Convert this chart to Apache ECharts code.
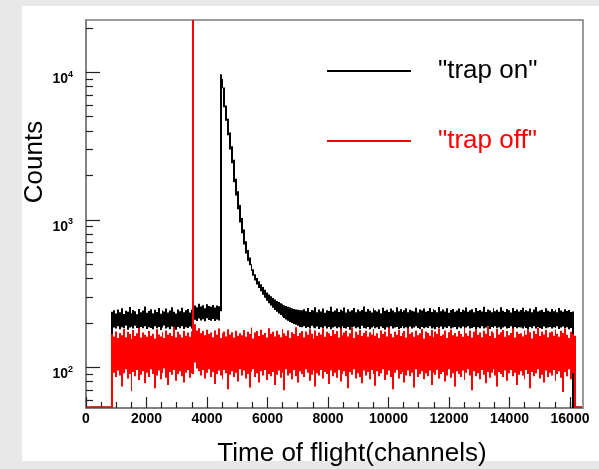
<!DOCTYPE html>
<html>
<head>
<meta charset="utf-8">
<script src="https://cdn.jsdelivr.net/npm/echarts@6/dist/echarts.min.js"></script>
<style>
html,body{margin:0;padding:0;background:#e8e8e8;width:599px;height:469px;overflow:hidden;}
#panel{position:absolute;left:22px;top:6px;width:577px;height:455px;background:#ffffff;}
#chart{position:absolute;left:0;top:0;width:599px;height:469px;}
</style>
</head>
<body>
<div id="panel"></div>
<div id="chart"></div>
<script>
// ---- data: histograms shown as per-bin [low, high] envelopes (64-channel bins) ----
// 0 = empty bin (drawn on the axis floor, like ROOT does)
const BIN_WIDTH = 64;
const seriesNames = ['"trap on"', '"trap off"'];

const trapOnLow = [
  0,0,0,0,0,0,0,0,0,0,0,0,0,0,186,183,
  190,181,187,184,192,180,186,189,183,191,185,179,188,184,190,182,
  187,185,181,190,184,188,179,186,192,183,187,181,189,185,180,188,
  184,190,182,187,185,189,183,200,210,206,214,208,212,205,215,209,
  207,213,206,211,208,240,7800,5800,4700,3750,3000,2420,1800,1460,1180,960,
  810,680,590,525,492,450,417,388,365,345,328,310,296,283,272,262,
  253,245,238,232,226,221,216,211,207,203,200,197,194,191,188,187,
  190,185,188,183,191,186,184,189,182,187,185,190,183,188,181,186,
  189,184,187,182,190,185,183,188,180,186,189,184,187,182,191,185,
  183,188,181,186,190,184,187,182,189,185,180,187,184,190,183,186,
  188,182,185,190,184,187,181,189,183,186,190,185,182,188,184,187,
  185,190,183,186,181,188,184,189,182,187,185,190,183,186,188,181,
  187,184,189,182,186,190,183,185,188,181,187,184,190,183,186,189,
  182,188,185,190,184,187,181,186,189,183,185,190,182,188,184,187,
  186,183,189,185,181,188,184,190,183,187,185,182,189,184,186,188,
  183,187,185,190,182,186,189,184,187,181,185,0,0,0,0,0
];
const trapOnHigh = [
  0,0,0,0,0,0,0,0,0,0,0,0,0,238,244,232,
  247,236,251,230,242,238,256,233,245,240,229,249,236,243,258,234,
  241,248,233,246,237,252,231,244,239,250,235,243,255,238,232,247,
  240,253,236,244,249,235,246,292,262,255,270,258,264,251,268,260,
  257,265,254,262,259,9700,9000,7900,5950,4850,3900,3150,2550,1900,1560,1260,
  1030,860,715,625,556,500,462,428,403,383,366,350,336,322,312,303,
  295,288,282,277,272,268,264,260,257,254,251,249,247,246,244,244,
  248,240,252,237,245,242,255,236,247,239,250,234,244,241,257,238,
  243,250,237,246,241,254,235,248,239,244,252,236,247,240,245,258,
  238,249,242,235,251,244,239,247,233,253,241,246,237,250,243,236,
  255,240,248,237,244,251,236,246,242,239,253,235,247,243,250,238,
  241,252,237,248,244,236,256,240,247,239,251,234,245,249,238,243,
  250,237,246,242,254,238,244,248,236,252,241,245,239,257,237,247,
  243,236,251,240,246,238,255,242,237,249,244,235,252,241,247,239,
  245,253,238,244,240,250,236,247,256,239,243,246,237,251,242,238,
  249,240,246,236,252,243,238,248,241,245,237,239,0,0,0,0
];
const trapOffLow = [
  0,0,0,0,0,0,0,0,0,0,0,0,0,0,92,86,
  95,88,74,91,97,84,90,69,93,87,96,82,89,94,78,92,
  86,97,90,72,88,95,83,91,98,85,76,93,89,96,81,90,
  94,87,79,92,96,85,91,90,108,98,94,88,96,84,92,97,
  86,93,77,90,95,88,83,96,91,71,89,94,86,92,80,97,
  88,95,84,90,73,93,97,86,91,79,94,88,96,82,90,87,
  93,76,89,95,85,92,70,97,88,91,83,96,87,79,94,90,
  86,97,92,81,89,95,74,91,88,96,84,93,90,77,95,87,
  92,85,96,80,90,94,87,72,93,89,97,84,91,86,78,95,
  88,93,83,96,90,75,94,87,91,97,82,89,95,86,71,92,
  96,84,90,93,79,88,95,87,92,73,97,86,90,94,83,91,
  87,95,76,92,89,96,84,90,93,80,88,97,85,91,74,94,
  90,86,95,82,92,97,88,70,94,87,91,83,96,89,78,93,
  85,92,97,88,74,93,90,86,95,81,91,96,87,92,76,89,
  94,88,83,96,90,72,93,87,91,97,84,89,79,95,86,92,
  88,96,81,90,94,85,68,93,87,97,83,91,0,0,0,0
];
const trapOffHigh = [
  0,0,0,0,0,0,0,0,0,0,0,0,0,168,162,175,
  158,171,165,182,160,174,168,156,179,163,170,185,159,172,166,161,
  176,164,169,157,181,167,162,173,158,178,166,171,163,188,160,174,
  167,159,177,164,172,161,175,40000,196,178,184,170,176,165,180,168,
  172,160,178,166,183,158,170,175,162,181,167,173,159,177,164,170,
  165,179,161,174,168,186,157,172,176,163,180,166,171,159,184,169,
  174,162,177,167,160,182,170,164,178,158,173,168,187,163,171,176,
  160,175,166,181,169,157,178,164,172,167,184,161,174,170,163,179,
  168,176,159,183,165,172,177,162,170,185,158,174,166,179,163,171,
  177,161,173,167,182,164,170,158,178,168,175,162,186,169,160,174,
  166,180,163,171,176,159,184,168,173,161,177,165,170,182,157,175,
  171,164,179,160,175,169,183,163,167,178,158,173,180,165,171,162,
  176,168,161,185,170,164,178,159,174,181,166,172,160,177,169,188,
  163,175,170,158,182,167,173,179,161,176,165,171,184,159,174,168,
  170,162,178,166,181,173,157,176,168,185,163,174,167,179,160,172,
  175,164,180,169,161,177,171,183,166,158,174,168,164,0,0,0
];

const xTickLabels = [0,2000,4000,6000,8000,10000,12000,14000,16000];
const xMinorTicks = [500,1000,1500,2500,3000,3500,4500,5000,5500,6500,7000,7500,8500,9000,9500,
  10500,11000,11500,12500,13000,13500,14500,15000,15500,16000];
const yMajorTicks = [100,1000,10000];
const yMinorTicks = [60,70,80,90,200,300,400,500,600,700,800,900,
  2000,3000,4000,5000,6000,7000,8000,9000,20000];

const X_MIN = 0, X_MAX = 16430;
const Y_MIN = 53, Y_MAX = 22620;

// ---- build [binStart, binEnd, low, high] rows ----
function toRows(low, high){
  return low.map((lo,i)=>[i*BIN_WIDTH, (i+1)*BIN_WIDTH, lo > 0 ? lo : Y_MIN, high[i] > 0 ? high[i] : Y_MIN]);
}
function renderBin(params, api){
  const pTop = api.coord([api.value(0), api.value(3)]);
  const pBot = api.coord([api.value(1), api.value(2)]);
  const x0 = Math.round(pTop[0]), x1 = Math.max(Math.round(pBot[0]), x0 + 1);
  let y = pTop[1], h = pBot[1] - pTop[1];
  if (h < 1.5) { y = pBot[1] - 1.5; h = 1.5; }
  return {type:'rect', shape:{x:x0, y:y, width:x1 - x0, height:h},
          style:{fill:api.visual('color')}};
}

const FONT = 'Liberation Sans, Arial, Helvetica, sans-serif';
const chart = echarts.init(document.getElementById('chart'), null, {renderer:'canvas'});

const axisLineStyle = {color:'#7a7a7a', width:1.5};
const tickStyle = {color:'#222', width:1.2};

const option = {
  animation:false,
  backgroundColor:'transparent',
  grid:{left:86, right:16, top:20, bottom:61, show:true, borderColor:'#7a7a7a', borderWidth:1.5, backgroundColor:'#ffffff'},
  legend:[
    {data:[{name:seriesNames[0]}], left:327, top:58, padding:0, orient:'vertical', icon:'rect',
     itemWidth:84, itemHeight:2, selectedMode:false,
     textStyle:{fontSize:26, fontFamily:FONT, color:'#000000', padding:[0,0,8,22]}},
    {data:[{name:seriesNames[1]}], left:327, top:128, padding:0, orient:'vertical', icon:'rect',
     itemWidth:84, itemHeight:2, selectedMode:false,
     textStyle:{fontSize:26, fontFamily:FONT, color:'#ff0000', padding:[0,0,8,22]}}
  ],
  xAxis:[
    {type:'value', min:X_MIN, max:X_MAX, position:'bottom',
     axisLine:{show:true, lineStyle:axisLineStyle},
     axisTick:{show:true, inside:true, length:11, customValues:xTickLabels, lineStyle:tickStyle},
     axisLabel:{show:true, customValues:xTickLabels, fontSize:14, fontWeight:'bold', color:'#000', margin:4, fontFamily:FONT,
       formatter:(v)=>String(v)},
     splitLine:{show:false}},
    {type:'value', min:X_MIN, max:X_MAX, position:'bottom',
     axisLine:{show:false},
     axisTick:{show:true, inside:true, length:6, customValues:xMinorTicks, lineStyle:tickStyle},
     axisLabel:{show:false},
     splitLine:{show:false}}
  ],
  yAxis:[
    {type:'log', logBase:10, min:Y_MIN, max:Y_MAX, position:'left',
     axisLine:{show:true, lineStyle:axisLineStyle},
     axisTick:{show:true, inside:true, length:14, customValues:yMajorTicks, lineStyle:tickStyle},
     axisLabel:{show:true, customValues:yMajorTicks, margin:13, verticalAlign:'top',
       formatter:(v)=>'{b|10}{s|' + Math.round(Math.log10(v)) + '}',
       rich:{
         b:{fontSize:14, fontWeight:'bold', color:'#000', fontFamily:FONT, lineHeight:14},
         s:{fontSize:9, fontWeight:'bold', color:'#000', fontFamily:FONT, lineHeight:9, padding:[0,0,10,0]}
       }},
     splitLine:{show:false}, minorTick:{show:false}},
    {type:'log', logBase:10, min:Y_MIN, max:Y_MAX, position:'left',
     axisLine:{show:false},
     axisTick:{show:true, inside:true, length:7, customValues:yMinorTicks, lineStyle:tickStyle},
     axisLabel:{show:false},
     splitLine:{show:false}}
  ],
  series:[
    {name:seriesNames[0], type:'custom', xAxisIndex:0, yAxisIndex:0, clip:true, silent:true,
     data:toRows(trapOnLow, trapOnHigh), encode:{x:[0,1], y:[2,3]}, renderItem:renderBin,
     itemStyle:{color:'#000000'}, z:2, progressive:0},
    {name:seriesNames[1], type:'custom', xAxisIndex:0, yAxisIndex:0, clip:true, silent:true,
     data:toRows(trapOffLow, trapOffHigh), encode:{x:[0,1], y:[2,3]}, renderItem:renderBin,
     itemStyle:{color:'#ff0000'}, z:3, progressive:0}
  ],
  graphic:[
    {type:'text', x:352, y:454, silent:true,
     style:{text:'Time of flight(channels)', fontSize:26, fontFamily:FONT, fill:'#000', align:'center', verticalAlign:'middle'}},
    {type:'text', x:35, y:162, rotation:Math.PI/2, silent:true,
     style:{text:'Counts', fontSize:26, fontFamily:FONT, fill:'#000', align:'center', verticalAlign:'middle'}}
  ]
};
chart.setOption(option);
</script>
</body>
</html>
